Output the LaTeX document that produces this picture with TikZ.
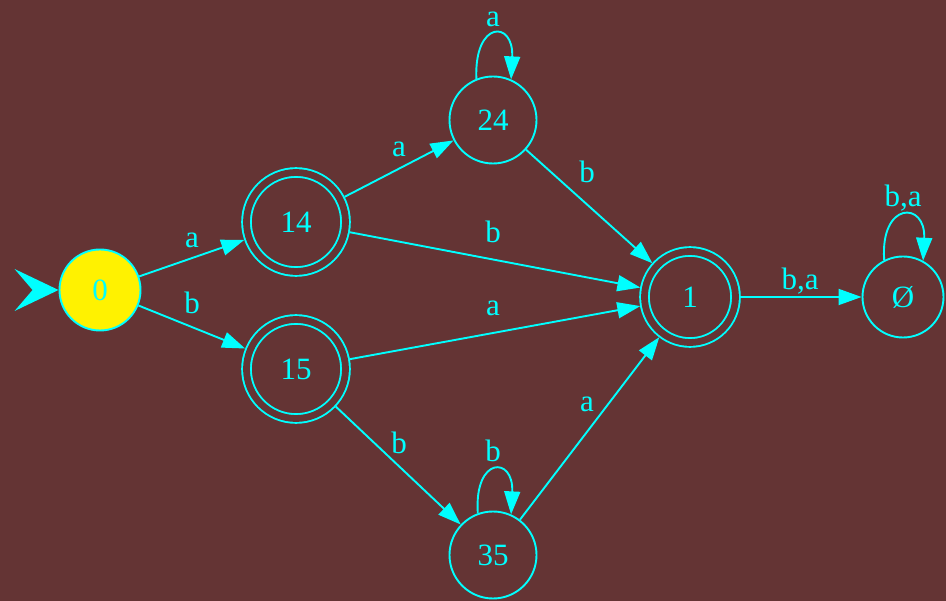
\documentclass[tikz,border=0pt]{standalone}
\usepackage{fontspec}
\setmainfont{Liberation Serif}
\usetikzlibrary{arrows.meta}
\definecolor{bgbrown}{HTML}{643434}
\definecolor{edgecyan}{HTML}{00FFFF}
\begin{document}
\begin{tikzpicture}[x=1pt, y=-1pt,
    every node/.style={font=\fontsize{31}{37}\selectfont, text=edgecyan},
    state/.style={draw=edgecyan, circle, line width=1.9pt, inner sep=0pt},
    accepting/.style={state, double=bgbrown, double distance=6.8pt},
    edge/.style={-{Triangle[length=23pt,width=16pt]}, line width=1.9pt, edgecyan},
    lbl/.style={anchor=base, inner sep=0pt}]
        % background
        \fill[bgbrown] (0,0) rectangle (946,601);
        \useasboundingbox (0,0) rectangle (946,601);

        % states
        \node[state, fill=yellow, minimum size=81pt] (state_0) at (100,290) {0};
        \node[accepting, minimum size=99pt, outer sep=5.3pt] (state_14) at (296,222) {14};
        \node[accepting, minimum size=99pt, outer sep=5.3pt] (state_15) at (296,369) {15};
        \node[state, minimum size=87pt] (state_24) at (493,120) {24};
        \node[state, minimum size=87pt] (state_35) at (493,555) {35};
        \node[accepting, minimum size=91pt, outer sep=5pt] (state_1) at (690,297) {1};
        \node[state, minimum size=81pt] (state_empty) at (903,297) {Ø};

        % start arrow
        \coordinate (start) at (33,290);
        \draw[-{Stealth[length=44pt,width=42pt,inset=18pt,line width=0pt]}, line width=1pt, edgecyan] (start) -- (state_0);

        % transitions
        \draw[edge] (state_0) -- (state_14);
        \draw[edge] (state_0) -- (state_15);
        \draw[edge] (state_14) -- (state_24);
        \draw[edge] (state_14) -- (state_1);
        \draw[edge] (state_15) -- (state_1);
        \draw[edge] (state_15) -- (state_35);
        \draw[edge] (state_24) -- (state_1);
        \draw[edge] (state_35) -- (state_1);
        \draw[edge] (state_1) -- (state_empty);

        % loops
        \draw[edge] (state_24.112) .. controls (474,20) and (514,20) .. (state_24.66);
        \draw[edge] (state_35.110) .. controls (474,456) and (514,456) .. (state_35.66);
        \draw[edge] (state_empty.117) .. controls (880,201) and (926,201) .. (state_empty.61);

        % labels
        \node[lbl] (label_0_14) at (192,248) {a};
        \node[lbl] (label_0_15) at (192,314) {b};
        \node[lbl] (label_14_24) at (399,157) {a};
        \node[lbl] (label_14_1) at (493,243) {b};
        \node[lbl] (label_15_1) at (493,316) {a};
        \node[lbl] (label_15_35) at (399,454) {b};
        \node[lbl] (label_24_1) at (587,183) {b};
        \node[lbl] (label_35_1) at (587,412) {a};
        \node[lbl] (label_1_empty) at (800,290) {b,a};
        \node[lbl] (label_24_24) at (493,27) {a};
        \node[lbl] (label_35_35) at (493,462) {b};
        \node[lbl] (label_empty_empty) at (903,207) {b,a};
\end{tikzpicture}
\end{document}
